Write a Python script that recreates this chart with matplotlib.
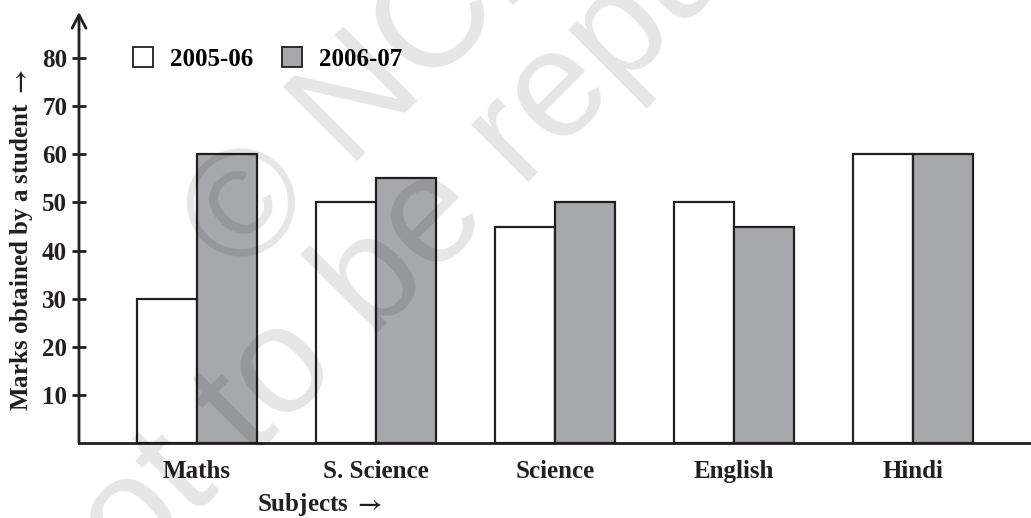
import numpy as np
import matplotlib
matplotlib.use('Agg')
import matplotlib.pyplot as plt
from matplotlib.patches import Patch

# Données
subjects = ['Maths', 'S. Science', 'Science', 'English', 'Hindi']
marks_2005 = [30, 50, 45, 50, 60]
marks_2006 = [60, 55, 50, 45, 60]
years = ['2005-06', '2006-07']
yticks = [10, 20, 30, 40, 50, 60, 70, 80]

plt.rcParams['font.family'] = ['Liberation Serif', 'DejaVu Serif']
plt.rcParams['font.weight'] = 'bold'
plt.rcParams['mathtext.fontset'] = 'stix'

W, H = 1031, 518
ink = '#231f20'
fig = plt.figure(figsize=(W / 100, H / 100), dpi=100)
ax = fig.add_axes([79 / W, (H - 443) / H, 1 - 79 / W, (443 - 12) / H])

gray = '#a7a8ac'
x = np.arange(len(subjects))
bw = 0.335
ax.bar(x - bw / 2, marks_2005, bw, color='white', edgecolor=ink, linewidth=1.6, zorder=2)
ax.bar(x + bw / 2, marks_2006, bw, color=gray, edgecolor=ink, linewidth=1.6, zorder=2)

ax.set_xlim(-0.659, 4.66)
ax.set_ylim(0, 89.6)

# Axes : pas de cadre, axe y avec flèche
for s in ['top', 'right', 'left']:
    ax.spines[s].set_visible(False)
ax.spines['bottom'].set_linewidth(2)
ax.spines['bottom'].set_color(ink)
ax.annotate('', xy=(0, 1), xytext=(0, 0), xycoords='axes fraction',
            arrowprops=dict(arrowstyle='->,head_length=9.5,head_width=5', lw=2,
                            color=ink, mutation_scale=1, shrinkA=0, shrinkB=0))

ax.set_yticks(yticks)
ax.set_yticklabels([str(v) for v in yticks], fontsize=18, color=ink)
ax.tick_params(axis='y', direction='inout', length=10, width=2, color=ink, pad=3.5)
ax.set_xticks(x)
ax.set_xticklabels(subjects, fontsize=18, color=ink)
ax.tick_params(axis='x', length=0, pad=12)

# Légende
handles = [Patch(facecolor='white', edgecolor=ink, linewidth=1.3),
           Patch(facecolor=gray, edgecolor=ink, linewidth=1.3)]
ax.legend(handles, years, ncol=2, frameon=False, fontsize=18,
          loc='center left', bbox_to_anchor=(133 / W, 1 - 59 / H),
          bbox_transform=fig.transFigure, borderpad=0, borderaxespad=0,
          handlelength=0.8, handleheight=0.8, handletextpad=0.68,
          columnspacing=1.16)

fig.text(320 / W, 1 - 505 / H, r'Subjects $\rightarrow$', fontsize=18, ha='center',
         va='center', color=ink)
fig.text(22 / W, 1 - 240 / H, r'Marks obtained by a student $\rightarrow$', fontsize=18,
         rotation=90, ha='center', va='center', color=ink)

# Filigrane
fig.text(0.438, 0.977, '© NCERT', fontsize=110, family='Liberation Sans',
         weight='normal', rotation=45, rotation_mode='anchor', ha='center',
         va='center', color='black', alpha=0.1, zorder=10)
fig.text(0.5315, 0.7934, 'not to be republished', fontsize=110, family='Liberation Sans',
         weight='normal', rotation=45, rotation_mode='anchor', ha='center',
         va='center', color='black', alpha=0.1, zorder=10)

fig.savefig('out.png', dpi=100)
